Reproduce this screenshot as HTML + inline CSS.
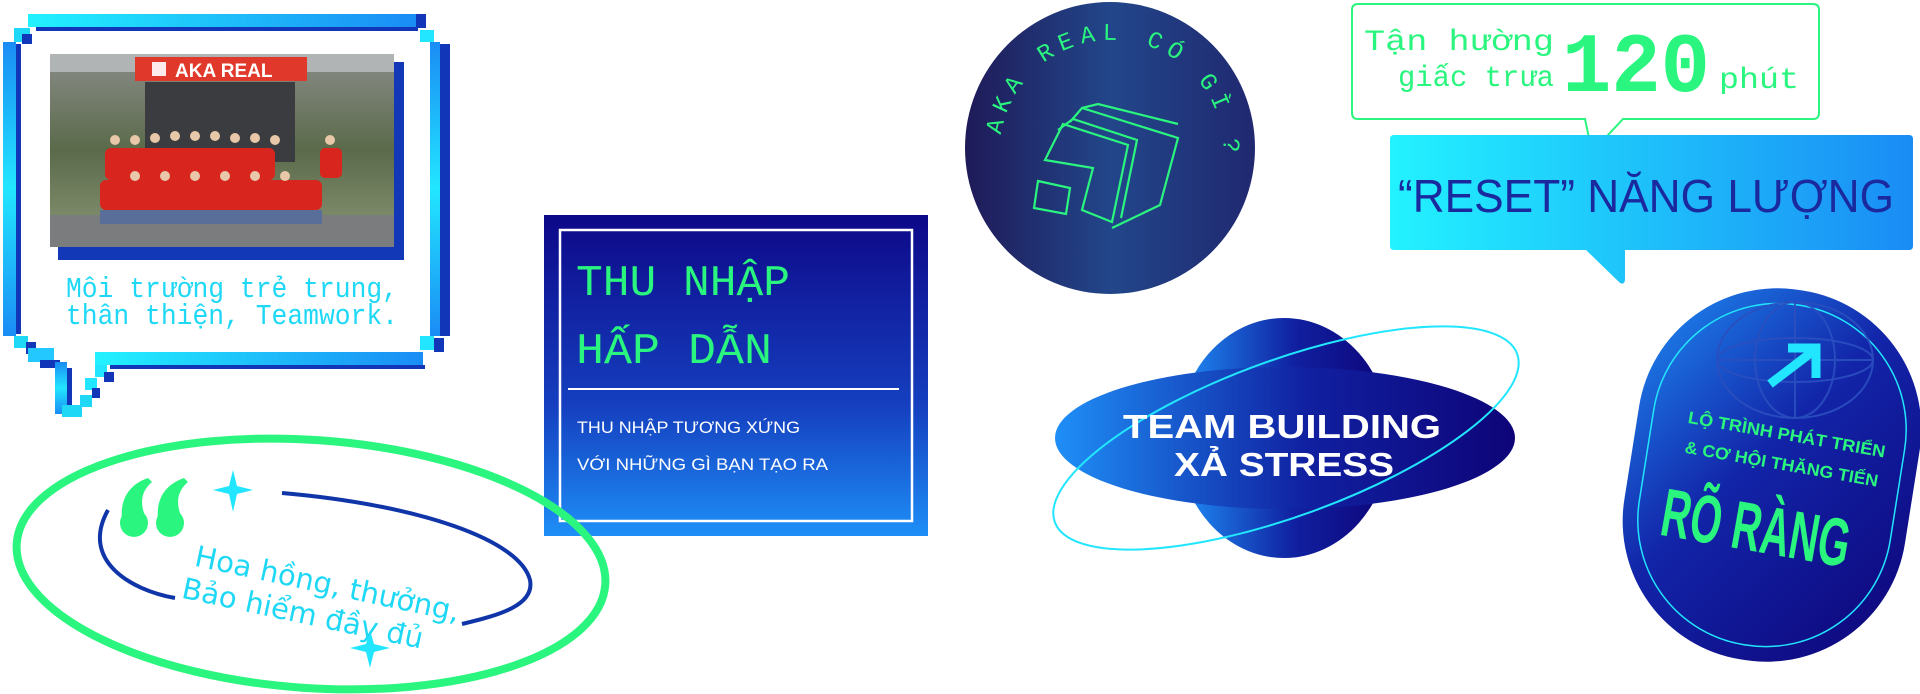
<!DOCTYPE html>
<html><head><meta charset="utf-8"><style>
html,body{margin:0;padding:0;background:#fff;width:1920px;height:694px;overflow:hidden}
svg{display:block}
</style></head><body>
<svg width="1920" height="694" viewBox="0 0 1920 694" xmlns="http://www.w3.org/2000/svg">
<defs>
<linearGradient id="cy" x1="0" y1="0" x2="1" y2="0"><stop offset="0" stop-color="#22f2ff"/><stop offset="1" stop-color="#1a8cf5"/></linearGradient>
<linearGradient id="cyv" x1="0" y1="0" x2="0" y2="1"><stop offset="0" stop-color="#1a8cf5"/><stop offset=".5" stop-color="#22e6ff"/><stop offset="1" stop-color="#1a8cf5"/></linearGradient>
<linearGradient id="box" x1="0" y1="0" x2="0" y2="1"><stop offset="0" stop-color="#0d0888"/><stop offset=".6" stop-color="#1540c0"/><stop offset="1" stop-color="#1e8ff7"/></linearGradient>
<linearGradient id="circ" x1="0" y1="0" x2="1" y2="0"><stop offset="0" stop-color="#1f1a58"/><stop offset=".5" stop-color="#22468a"/><stop offset="1" stop-color="#202870"/></linearGradient>
<linearGradient id="tb" x1="0" y1="0" x2="1" y2="0"><stop offset="0" stop-color="#1f8ff7"/><stop offset=".55" stop-color="#1020a0"/><stop offset="1" stop-color="#0e0478"/></linearGradient>
<linearGradient id="pill" x1="0" y1="0" x2="1" y2="1"><stop offset="0" stop-color="#1f8ff7"/><stop offset=".45" stop-color="#1224a8"/><stop offset="1" stop-color="#0e0478"/></linearGradient>
<linearGradient id="photo" x1="0" y1="0" x2="0" y2="1"><stop offset="0" stop-color="#8a8c88"/><stop offset=".5" stop-color="#5a6a4a"/><stop offset=".85" stop-color="#7d8a6a"/><stop offset="1" stop-color="#6a6a6a"/></linearGradient>
<path id="arcP" d="M 1001,135 A 112 112 0 1 1 1190,232"/>
</defs>

<!-- LEFT SPEECH BUBBLE FRAME -->
<rect x="28" y="14" width="390" height="13" fill="url(#cy)"/>
<rect x="36" y="27" width="382" height="4" fill="#1236b8"/>
<rect x="416" y="14" width="10" height="14" fill="#1236b8"/>
<rect x="14" y="28" width="16" height="14" fill="#1fd8f5"/>
<rect x="22" y="34" width="10" height="10" fill="#1236b8"/>
<rect x="420" y="30" width="14" height="12" fill="#22e6ff"/>
<rect x="3" y="42" width="13" height="294" fill="url(#cyv)"/>
<rect x="16" y="44" width="5" height="290" fill="#1236b8"/>
<rect x="430" y="42" width="10" height="294" fill="url(#cyv)"/>
<rect x="440" y="44" width="10" height="292" fill="#1236b8"/>
<rect x="14" y="336" width="14" height="12" fill="#1fd8f5"/>
<rect x="26" y="342" width="10" height="12" fill="#1236b8"/>
<rect x="420" y="336" width="14" height="14" fill="#22e6ff"/>
<rect x="434" y="338" width="10" height="14" fill="#1236b8"/>
<rect x="95" y="352" width="328" height="13" fill="url(#cy)"/>
<rect x="110" y="365" width="315" height="4" fill="#1236b8"/>
<rect x="28" y="348" width="26" height="14" fill="#22c8ff"/>
<rect x="40" y="360" width="20" height="8" fill="#1236b8"/>
<rect x="55" y="362" width="12" height="52" fill="url(#cyv)"/>
<rect x="67" y="368" width="5" height="44" fill="#1236b8"/>
<rect x="62" y="405" width="20" height="12" fill="#1fd8f5"/>
<rect x="80" y="395" width="12" height="12" fill="#1fd8f5"/>
<rect x="85" y="378" width="12" height="12" fill="#22e6ff"/>
<rect x="95" y="365" width="12" height="12" fill="#22e6ff"/>
<rect x="92" y="388" width="8" height="10" fill="#1236b8"/>
<rect x="104" y="372" width="10" height="10" fill="#1236b8"/>

<!-- photo -->
<rect x="58" y="62" width="346" height="198" fill="#1238b8"/>
<rect x="50" y="54" width="344" height="193" fill="url(#photo)"/>
<rect x="50" y="54" width="344" height="18" fill="#b0b4b4"/>
<rect x="135" y="57" width="172" height="24" fill="#e0392b"/>
<text x="175" y="77" font-family="Liberation Sans, sans-serif" font-weight="bold" font-size="19" fill="#fff">AKA REAL</text>
<rect x="152" y="62" width="14" height="14" fill="#fff" opacity=".9"/>
<rect x="145" y="82" width="150" height="80" fill="#3a3c40"/>
<rect x="50" y="215" width="344" height="32" fill="#7a7c7e"/>
<g fill="#d8261e">
<rect x="105" y="148" width="170" height="32" rx="6"/>
<rect x="100" y="180" width="222" height="30" rx="6"/>
<rect x="320" y="148" width="22" height="30" rx="5"/>
</g>
<g fill="#e8c8a8"><circle cx="115" cy="140" r="5"/><circle cx="135" cy="140" r="5"/><circle cx="155" cy="138" r="5"/><circle cx="175" cy="136" r="5"/><circle cx="195" cy="136" r="5"/><circle cx="215" cy="136" r="5"/><circle cx="235" cy="138" r="5"/><circle cx="255" cy="138" r="5"/><circle cx="275" cy="140" r="5"/><circle cx="330" cy="140" r="5"/><circle cx="135" cy="176" r="5"/><circle cx="165" cy="176" r="5"/><circle cx="195" cy="176" r="5"/><circle cx="225" cy="176" r="5"/><circle cx="255" cy="176" r="5"/><circle cx="285" cy="176" r="5"/></g>
<rect x="100" y="210" width="222" height="14" fill="#5a6e9a"/>

<text x="66" y="297" font-family="Liberation Mono, monospace" font-size="29" fill="#1fd8f5" textLength="332" lengthAdjust="spacingAndGlyphs">Môi trường trẻ trung,</text>
<text x="66" y="324" font-family="Liberation Mono, monospace" font-size="29" fill="#1fd8f5" textLength="332" lengthAdjust="spacingAndGlyphs">thân thiện, Teamwork.</text>

<!-- BLUE BOX -->
<rect x="544" y="215" width="384" height="321" fill="url(#box)"/>
<rect x="560" y="230" width="352" height="291" fill="none" stroke="#fff" stroke-width="2.5"/>
<text x="576" y="295" font-family="Liberation Mono, monospace" font-size="44" fill="#2af57e" textLength="214" lengthAdjust="spacingAndGlyphs">THU NHẬP</text>
<text x="576" y="363" font-family="Liberation Mono, monospace" font-size="44" fill="#2af57e" textLength="196" lengthAdjust="spacingAndGlyphs">HẤP DẪN</text>
<rect x="568" y="388" width="331" height="2" fill="#fff"/>
<text x="577" y="433" font-family="Liberation Sans, sans-serif" font-size="17" fill="#fff" textLength="223" lengthAdjust="spacingAndGlyphs">THU NHẬP TƯƠNG XỨNG</text>
<text x="577" y="470" font-family="Liberation Sans, sans-serif" font-size="17" fill="#fff" textLength="251" lengthAdjust="spacingAndGlyphs">VỚI NHỮNG GÌ BẠN TẠO RA</text>

<!-- GREEN ELLIPSE -->
<ellipse cx="311" cy="564" rx="295" ry="124" fill="none" stroke="#2af57e" stroke-width="8" transform="rotate(4 311 564)"/>
<path d="M 108,510 C 80,560 130,590 175,598" fill="none" stroke="#0f35a8" stroke-width="4"/>
<path d="M 282,493 C 420,505 520,540 530,580 C 535,605 500,615 462,624" fill="none" stroke="#0f35a8" stroke-width="4"/>
<g fill="#2af57e">
<circle cx="134" cy="523" r="14"/>
<path d="M122,520 C120,500 128,485 148,478 L152,482 C140,492 140,505 146,518 Z"/>
<circle cx="170" cy="523" r="14"/>
<path d="M158,520 C156,500 164,485 184,478 L188,482 C176,492 176,505 182,518 Z"/>
</g>
<path d="M233,470 L237,486 L253,490 L237,494 L233,512 L229,494 L213,490 L229,486 Z" fill="#22e6ff"/>
<path d="M370,630 L374,644 L390,648 L374,652 L370,668 L366,652 L350,648 L366,644 Z" fill="#22e6ff"/>
<g transform="rotate(12 198 544)" font-family="DejaVu Sans, sans-serif" font-size="29" fill="#1fd8f5">
<text x="198" y="566">Hoa hồng, thưởng,</text>
<text x="192" y="600">Bảo hiểm đầy đủ</text>
</g>

<!-- CIRCLE -->
<ellipse cx="1110" cy="148" rx="145" ry="146" fill="url(#circ)"/>
<text font-family="Liberation Mono, monospace" font-size="24" fill="#2af57e" letter-spacing="7"><textPath href="#arcP">AKA REAL CÓ GÌ ?</textPath></text>
<g fill="none" stroke="#2af57e" stroke-width="2.2">
<polygon points="1034,208 1038,181 1070,188 1066,214"/>
<polygon points="1045,160 1063,124 1128,145 1112,222 1082,210 1093,168"/>
<polyline points="1058,130 1073,119 1137,140 1121,218"/>
<polyline points="1070,122 1082,108 1178,138 1160,205 1112,228"/>
<polyline points="1082,108 1098,104 1178,124"/>
</g>

<!-- GREEN SPEECH BOX -->
<path d="M1358,4 H1813 Q1819,4 1819,10 V113 Q1819,119 1813,119 H1623 L1592,152 L1585,119 H1358 Q1352,119 1352,113 V10 Q1352,4 1358,4 Z" fill="#fff" stroke="#2af57e" stroke-width="2"/>
<text x="1364" y="50" font-family="Liberation Mono, monospace" font-size="30" fill="#2af57e" textLength="190" lengthAdjust="spacingAndGlyphs">Tận hường</text>
<text x="1398" y="86" font-family="Liberation Mono, monospace" font-size="30" fill="#2af57e" textLength="156" lengthAdjust="spacingAndGlyphs">giấc trưa</text>
<text x="1562" y="91" font-family="Liberation Mono, monospace" font-weight="bold" font-size="84" fill="#2af57e" textLength="148" lengthAdjust="spacingAndGlyphs">120</text>
<text x="1719" y="88" font-family="Liberation Mono, monospace" font-size="30" fill="#2af57e" textLength="80" lengthAdjust="spacingAndGlyphs">phút</text>

<!-- CYAN BOX -->
<path d="M1394,135 H1909 Q1913,135 1913,139 V246 Q1913,250 1909,250 H1625 V280 Q1624,286 1619,282 L1586,250 H1394 Q1390,250 1390,246 V139 Q1390,135 1394,135 Z" fill="url(#cy)"/>
<text x="1398" y="212" font-family="Liberation Sans, sans-serif" font-size="46" fill="#1a2a9e" textLength="496" lengthAdjust="spacingAndGlyphs">“RESET” NĂNG LƯỢNG</text>

<!-- TEAM BUILDING -->
<ellipse cx="1284" cy="438" rx="106" ry="120" fill="url(#tb)"/>
<ellipse cx="1285" cy="438" rx="230" ry="71" fill="url(#tb)"/>
<ellipse cx="1286" cy="438" rx="246" ry="78" fill="none" stroke="#22e6ff" stroke-width="2" transform="rotate(-20 1286 438)"/>
<text x="1282" y="438" text-anchor="middle" font-family="Liberation Sans, sans-serif" font-weight="bold" font-size="33" fill="#fff" textLength="318" lengthAdjust="spacingAndGlyphs">TEAM BUILDING</text>
<text x="1284" y="476" text-anchor="middle" font-family="Liberation Sans, sans-serif" font-weight="bold" font-size="33" fill="#fff" textLength="220" lengthAdjust="spacingAndGlyphs">XẢ STRESS</text>

<!-- PILL -->
<g transform="rotate(9 1772 475)">
<rect x="1630" y="288" width="284" height="374" rx="140" fill="url(#pill)"/>
<rect x="1645" y="303" width="254" height="344" rx="126" fill="none" stroke="#22e6ff" stroke-width="1.5"/>
</g>
<g fill="none" stroke="#2a4fc0" stroke-width="2" opacity=".9">
<ellipse cx="1795" cy="360" rx="78" ry="58"/>
<ellipse cx="1795" cy="360" rx="40" ry="58"/>
<ellipse cx="1795" cy="360" rx="78" ry="22"/>
<line x1="1717" y1="360" x2="1873" y2="360"/>
<line x1="1795" y1="302" x2="1795" y2="418"/>
</g>
<path d="M1770,384 L1812,352 M1788,348 L1816,348 L1816,378" fill="none" stroke="#22e6ff" stroke-width="9"/>
<g transform="rotate(10 1784 450)" font-family="Liberation Sans, sans-serif" font-weight="bold" fill="#2af57e">
<text x="1784" y="440" text-anchor="middle" font-size="17" textLength="200" lengthAdjust="spacingAndGlyphs">LỘ TRÌNH PHÁT TRIỂN</text>
<text x="1784" y="470" text-anchor="middle" font-size="17" textLength="196" lengthAdjust="spacingAndGlyphs">&amp; CƠ HỘI THĂNG TIẾN</text>
<text x="1770" y="555" text-anchor="middle" font-size="68" textLength="190" lengthAdjust="spacingAndGlyphs">RÕ RÀNG</text>
</g>
</svg>
</body></html>
